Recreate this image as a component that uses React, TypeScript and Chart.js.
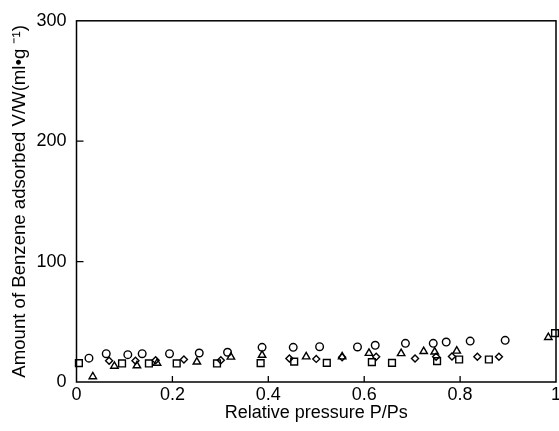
import React, { useEffect, useRef } from "react";
import { Chart, registerables } from "chart.js";

Chart.register(...registerables);

const xTicks = [0, 0.2, 0.4, 0.6, 0.8, 1];
const yTicks = [0, 100, 200, 300];

const circleX = [0.026, 0.062, 0.107, 0.137, 0.194, 0.256, 0.315, 0.387, 0.452, 0.507, 0.586, 0.623, 0.686, 0.744, 0.771, 0.821, 0.894];
const circleY = [19.8, 23.5, 22.7, 23.5, 23.5, 24.1, 24.7, 28.8, 28.8, 29.3, 29.1, 30.5, 32.1, 32.1, 33.2, 34.0, 34.6];

const triangleX = [0.034, 0.079, 0.126, 0.168, 0.251, 0.322, 0.387, 0.479, 0.554, 0.610, 0.677, 0.724, 0.747, 0.793, 0.984];
const triangleY = [4.5, 13.2, 13.6, 15.7, 16.7, 20.8, 22.3, 21.0, 21.0, 23.9, 23.7, 25.4, 25.0, 25.8, 37.1];

const diamondX = [0.068, 0.123, 0.165, 0.224, 0.301, 0.444, 0.5, 0.554, 0.625, 0.706, 0.75, 0.783, 0.836, 0.881];
const diamondY = [17.6, 17.6, 18.1, 18.7, 18.1, 19.5, 19.2, 20.6, 20.9, 19.5, 20.9, 21.2, 20.9, 20.9];

const squareX = [0.005, 0.095, 0.151, 0.209, 0.293, 0.384, 0.454, 0.522, 0.616, 0.658, 0.752, 0.798, 0.860, 0.998];
const squareY = [15.7, 15.4, 15.4, 15.4, 15.4, 15.7, 16.9, 15.9, 16.5, 15.9, 17.3, 18.7, 18.7, 40.6];

const toPoints = (xs: number[], ys: number[]) => xs.map((x, i) => ({ x, y: ys[i] }));

const FONT = "'Liberation Sans', Arial, Helvetica, sans-serif";

const framePlugin = {
  id: "frame",
  afterDraw(chart: any) {
    const { ctx, chartArea } = chart;
    const { left, right, top, bottom } = chartArea;
    const xs = chart.scales.x;
    const ys = chart.scales.y;
    ctx.save();
    ctx.strokeStyle = "#000";
    ctx.lineWidth = 1.5;
    ctx.strokeRect(left, top, right - left, bottom - top);
    ctx.lineWidth = 1.3;
    ctx.beginPath();
    xTicks.slice(1, -1).forEach((v) => {
      const px = xs.getPixelForValue(v);
      ctx.moveTo(px, bottom);
      ctx.lineTo(px, bottom - 6);
    });
    yTicks.slice(1, -1).forEach((v) => {
      const py = ys.getPixelForValue(v);
      ctx.moveTo(left, py);
      ctx.lineTo(left + 7, py);
    });
    ctx.stroke();
    ctx.restore();
  },
};

export default function App() {
  const ref = useRef<HTMLCanvasElement | null>(null);

  useEffect(() => {
    if (!ref.current) return;
    Chart.defaults.font.family = FONT;
    Chart.defaults.color = "#000";
    const common = {
      showLine: false,
      borderColor: "#000",
      backgroundColor: "rgba(0,0,0,0)",
      borderWidth: 1.4,
      clip: false as any,
    };
    const chart = new Chart(ref.current, {
      type: "scatter",
      data: {
        datasets: [
          { ...common, label: "circle", data: toPoints(circleX, circleY), pointStyle: "circle", pointRadius: 3.8 },
          { ...common, label: "triangle", data: toPoints(triangleX, triangleY), pointStyle: "triangle", pointRadius: 4.3 },
          { ...common, label: "diamond", data: toPoints(diamondX, diamondY), pointStyle: "rectRot", pointRadius: 3.5 },
          { ...common, label: "square", data: toPoints(squareX, squareY), pointStyle: "rect", pointRadius: 4.8 },
        ],
      },
      options: {
        animation: false,
        responsive: false,
        maintainAspectRatio: false,
        layout: { padding: { top: 18, right: 44, left: 0, bottom: 0 } },
        plugins: { legend: { display: false }, tooltip: { enabled: false } },
        scales: {
          x: {
            type: "linear",
            min: 0,
            max: 1,
            afterBuildTicks: (s: any) => {
              s.ticks = xTicks.map((v) => ({ value: v }));
            },
            afterFit: (s: any) => {
              s.height = 49;
            },
            grid: { display: false, drawTicks: false },
            border: { display: false },
            ticks: {
              padding: 2,
              font: { size: 18, family: FONT },
              color: "#000",
              maxRotation: 0,
              autoSkip: false,
              callback: (v: any) => String(v),
            },
            title: {
              display: true,
              text: "Relative pressure P/Ps",
              font: { size: 18, family: FONT },
              color: "#000",
              padding: { top: 0, bottom: 7 },
            },
          },
          y: {
            type: "linear",
            min: 0,
            max: 300,
            afterBuildTicks: (s: any) => {
              s.ticks = yTicks.map((v) => ({ value: v }));
            },
            afterFit: (s: any) => {
              s.width = 76.5;
            },
            grid: { display: false, drawTicks: false },
            border: { display: false },
            ticks: {
              padding: 10,
              font: { size: 18, family: FONT },
              color: "#000",
              autoSkip: false,
              callback: (v: any) => String(v),
            },
            title: {
              display: true,
              text: "Amount of Benzene adsorbed V/W(ml•g ⁻¹)",
              font: { size: 18.6, family: FONT },
              color: "#000",
              padding: { top: 9, bottom: 0 },
            },
          },
        },
      },
      plugins: [framePlugin],
    });
    return () => chart.destroy();
  }, []);

  return (
    <div style={{ position: "fixed", left: 0, top: 0, width: 600, height: 431, background: "#fff" }}>
      <canvas ref={ref} width={600} height={431} style={{ display: "block" }} />
    </div>
  );
}
